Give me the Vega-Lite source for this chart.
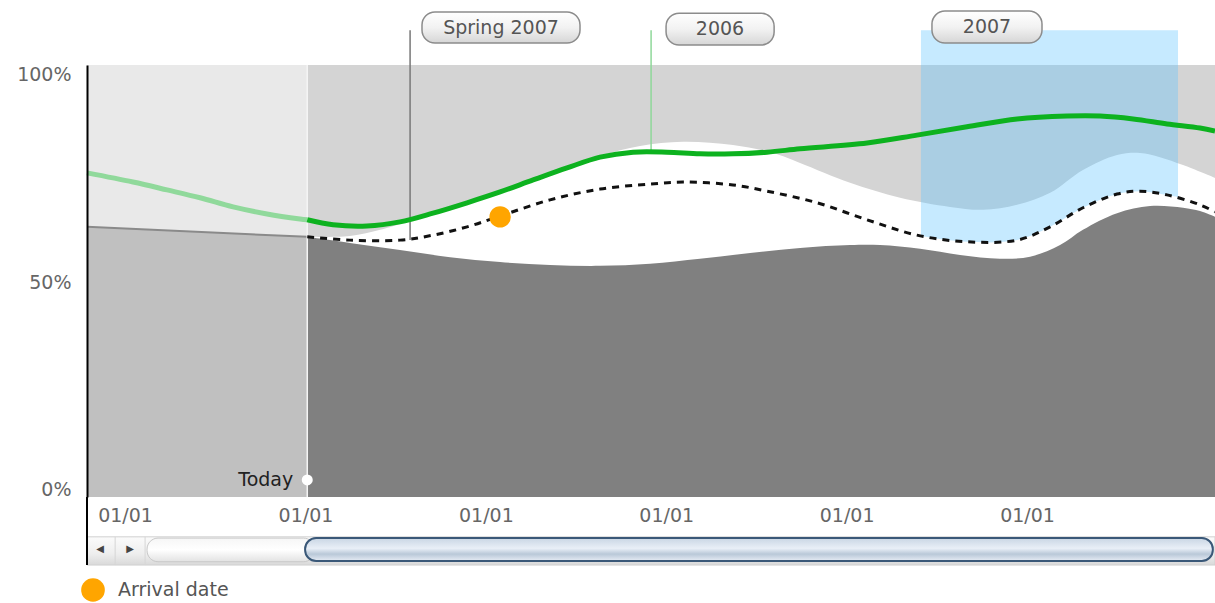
{
  "$schema": "https://vega.github.io/schema/vega-lite/v6.json",
  "width": 1128,
  "height": 432,
  "autosize": {"type": "none"},
  "padding": {"left": 87, "top": 65, "right": 0, "bottom": 106},
  "background": "white",
  "config": {
    "view": {"stroke": null},
    "font": "DejaVu Sans",
    "axis": {"grid": false, "labelFont": "DejaVu Sans", "labelFontSize": 19, "labelColor": "#666666"}
  },
  "datasets": {
    "past": [{"x": -0.211, "y": 0.764}, {"x": 0.044, "y": 0.742}, {"x": 0.233, "y": 0.723}, {"x": 0.416, "y": 0.704}, {"x": 0.599, "y": 0.682}, {"x": 0.787, "y": 0.665}, {"x": 0.97, "y": 0.653}, {"x": 1.01, "y": 0.651}],
    "forecast": [{"x": 1.01, "y": 0.651}, {"x": 1.153, "y": 0.639}, {"x": 1.341, "y": 0.636}, {"x": 1.524, "y": 0.646}, {"x": 1.707, "y": 0.667}, {"x": 1.896, "y": 0.692}, {"x": 2.079, "y": 0.718}, {"x": 2.262, "y": 0.747}, {"x": 2.45, "y": 0.776}, {"x": 2.633, "y": 0.802}, {"x": 2.816, "y": 0.814}, {"x": 3.004, "y": 0.814}, {"x": 3.187, "y": 0.81}, {"x": 3.37, "y": 0.81}, {"x": 3.559, "y": 0.814}, {"x": 3.742, "y": 0.822}, {"x": 4.113, "y": 0.836}, {"x": 4.39, "y": 0.855}, {"x": 4.667, "y": 0.875}, {"x": 4.945, "y": 0.894}, {"x": 5.222, "y": 0.901}, {"x": 5.405, "y": 0.901}, {"x": 5.588, "y": 0.894}, {"x": 5.776, "y": 0.882}, {"x": 5.959, "y": 0.872}, {"x": 6.042, "y": 0.865}],
    "dashed": [{"x": 1.01, "y": 0.61}, {"x": 1.247, "y": 0.602}, {"x": 1.524, "y": 0.602}, {"x": 1.707, "y": 0.614}, {"x": 1.896, "y": 0.634}, {"x": 2.079, "y": 0.66}, {"x": 2.356, "y": 0.699}, {"x": 2.633, "y": 0.725}, {"x": 2.91, "y": 0.737}, {"x": 3.093, "y": 0.742}, {"x": 3.37, "y": 0.735}, {"x": 3.559, "y": 0.72}, {"x": 3.836, "y": 0.692}, {"x": 4.113, "y": 0.651}, {"x": 4.39, "y": 0.614}, {"x": 4.667, "y": 0.598}, {"x": 4.945, "y": 0.602}, {"x": 5.128, "y": 0.634}, {"x": 5.31, "y": 0.68}, {"x": 5.499, "y": 0.713}, {"x": 5.626, "y": 0.72}, {"x": 5.776, "y": 0.711}, {"x": 5.959, "y": 0.687}, {"x": 6.042, "y": 0.67}],
    "blue": [{"x": 4.412, "y": 0.612}, {"x": 4.667, "y": 0.598}, {"x": 4.945, "y": 0.602}, {"x": 5.128, "y": 0.634}, {"x": 5.31, "y": 0.68}, {"x": 5.499, "y": 0.713}, {"x": 5.626, "y": 0.72}, {"x": 5.776, "y": 0.711}, {"x": 5.837, "y": 0.706}],
    "lower": [{"x": 1.01, "y": 0.61}, {"x": 1.247, "y": 0.595}, {"x": 1.524, "y": 0.578}, {"x": 1.802, "y": 0.561}, {"x": 2.079, "y": 0.549}, {"x": 2.356, "y": 0.542}, {"x": 2.633, "y": 0.54}, {"x": 2.91, "y": 0.545}, {"x": 3.187, "y": 0.557}, {"x": 3.465, "y": 0.571}, {"x": 3.742, "y": 0.583}, {"x": 4.019, "y": 0.59}, {"x": 4.185, "y": 0.59}, {"x": 4.407, "y": 0.581}, {"x": 4.629, "y": 0.566}, {"x": 4.85, "y": 0.557}, {"x": 5.017, "y": 0.562}, {"x": 5.183, "y": 0.59}, {"x": 5.31, "y": 0.627}, {"x": 5.499, "y": 0.667}, {"x": 5.682, "y": 0.684}, {"x": 5.865, "y": 0.68}, {"x": 5.959, "y": 0.672}, {"x": 6.042, "y": 0.658}],
    "upper": [{"x": 1.01, "y": 0.61}, {"x": 1.247, "y": 0.612}, {"x": 1.414, "y": 0.627}, {"x": 1.524, "y": 0.641}, {"x": 1.802, "y": 0.68}, {"x": 2.079, "y": 0.72}, {"x": 2.356, "y": 0.761}, {"x": 2.633, "y": 0.805}, {"x": 2.855, "y": 0.829}, {"x": 3.093, "y": 0.839}, {"x": 3.37, "y": 0.831}, {"x": 3.592, "y": 0.812}, {"x": 3.742, "y": 0.788}, {"x": 4.019, "y": 0.74}, {"x": 4.296, "y": 0.704}, {"x": 4.573, "y": 0.682}, {"x": 4.756, "y": 0.675}, {"x": 4.945, "y": 0.687}, {"x": 5.128, "y": 0.716}, {"x": 5.31, "y": 0.771}, {"x": 5.499, "y": 0.807}, {"x": 5.626, "y": 0.812}, {"x": 5.737, "y": 0.802}, {"x": 5.865, "y": 0.783}, {"x": 6.042, "y": 0.752}],
    "labels": [
      {"label": "Spring 2007", "x1": 1.646, "x2": 2.522, "y1": 1.077, "y2": 1.152, "tx": 2.084, "ty": 1.114},
      {"label": "2006", "x1": 2.999, "x2": 3.598, "y1": 1.072, "y2": 1.149, "tx": 3.298, "ty": 1.111},
      {"label": "2007", "x1": 4.473, "x2": 5.083, "y1": 1.077, "y2": 1.154, "tx": 4.778, "ty": 1.116}
    ]
  },
  "layer": [
    {
      "data": {"values": [{"x1": -0.211, "x2": 1.01, "y1": -0.017, "y2": 1.024}]},
      "mark": {"type": "rect", "fill": "#e9e9e9"},
      "encoding": {
        "x": {"field": "x1", "type": "quantitative", "title": null, "scale": {"domain": [-0.211, 6.042], "nice": false, "zero": false},
              "axis": {"title": null, "values": [0, 1, 2, 3, 4, 5], "labelExpr": "'01/01'", "ticks": false, "domain": false, "labelPadding": 9, "labelFlush": false, "labelOverlap": false}},
        "x2": {"field": "x2"},
        "y": {"field": "y1", "type": "quantitative", "title": null, "scale": {"domain": [-0.017, 1.024], "nice": false, "zero": false},
              "axis": {"title": null, "values": [0, 0.5, 1], "format": ".0%", "ticks": false, "domain": true, "domainColor": "#000000", "domainWidth": 2, "labelPadding": 16, "labelFlush": false, "labelOverlap": false, "zindex": 1}},
        "y2": {"field": "y2"}
      }
    },
    {
      "data": {"values": [{"x1": 1.01, "x2": 6.042, "y1": -0.017, "y2": 1.024}]},
      "mark": {"type": "rect", "fill": "#d4d4d4"},
      "encoding": {
        "x": {"field": "x1", "type": "quantitative", "title": null, "scale": {"domain": [-0.211, 6.042]}},
        "x2": {"field": "x2"},
        "y": {"field": "y1", "type": "quantitative", "title": null, "scale": {"domain": [-0.017, 1.024]}},
        "y2": {"field": "y2"}
      }
    },
    {
      "data": {"values": [{"x": -0.211, "y": 0.634}, {"x": 1.01, "y": 0.61}]},
      "mark": {"type": "area", "fill": "#c0c0c0"},
      "encoding": {
        "x": {"field": "x", "type": "quantitative", "title": null, "scale": {"domain": [-0.211, 6.042]}},
        "y": {"field": "y", "type": "quantitative", "title": null, "scale": {"domain": [-0.017, 1.024]}},
        "y2": {"datum": -0.017}
      }
    },
    {
      "data": {"values": [{"x": -0.211, "y": 0.634}, {"x": 1.01, "y": 0.61}]},
      "mark": {"type": "line", "color": "#8a8a8a", "strokeWidth": 2},
      "encoding": {
        "x": {"field": "x", "type": "quantitative", "title": null, "scale": {"domain": [-0.211, 6.042]}},
        "y": {"field": "y", "type": "quantitative", "title": null, "scale": {"domain": [-0.017, 1.024]}}
      }
    },
    {
      "data": {"name": "upper"},
      "mark": {"type": "area", "fill": "#ffffff", "interpolate": "catmull-rom"},
      "encoding": {
        "x": {"field": "x", "type": "quantitative", "title": null, "scale": {"domain": [-0.211, 6.042]}},
        "y": {"field": "y", "type": "quantitative", "title": null, "scale": {"domain": [-0.017, 1.024]}},
        "y2": {"datum": -0.017}
      }
    },
    {
      "data": {"name": "blue"},
      "mark": {"type": "area", "fill": "#5cc3ff", "opacity": 0.35, "interpolate": "catmull-rom"},
      "encoding": {
        "x": {"field": "x", "type": "quantitative", "title": null, "scale": {"domain": [-0.211, 6.042]}},
        "y": {"field": "y", "type": "quantitative", "title": null, "scale": {"domain": [-0.017, 1.024]}},
        "y2": {"datum": 1.108}
      }
    },
    {
      "data": {"name": "lower"},
      "mark": {"type": "area", "fill": "#808080", "interpolate": "catmull-rom"},
      "encoding": {
        "x": {"field": "x", "type": "quantitative", "title": null, "scale": {"domain": [-0.211, 6.042]}},
        "y": {"field": "y", "type": "quantitative", "title": null, "scale": {"domain": [-0.017, 1.024]}},
        "y2": {"datum": -0.017}
      }
    },
    {
      "data": {"values": [{"x": 1.01, "y1": -0.017, "y2": 1.024}]},
      "mark": {"type": "rule", "color": "#f4f4f4", "strokeWidth": 1.5},
      "encoding": {
        "x": {"field": "x", "type": "quantitative", "title": null, "scale": {"domain": [-0.211, 6.042]}},
        "y": {"field": "y1", "type": "quantitative", "title": null, "scale": {"domain": [-0.017, 1.024]}},
        "y2": {"field": "y2"}
      }
    },
    {
      "data": {"values": [{"x": 1.58, "y1": 0.602, "y2": 1.108}]},
      "mark": {"type": "rule", "color": "#777777", "strokeWidth": 1.5},
      "encoding": {
        "x": {"field": "x", "type": "quantitative", "title": null, "scale": {"domain": [-0.211, 6.042]}},
        "y": {"field": "y1", "type": "quantitative", "title": null, "scale": {"domain": [-0.017, 1.024]}},
        "y2": {"field": "y2"}
      }
    },
    {
      "data": {"values": [{"x": 2.916, "y1": 0.819, "y2": 1.108}]},
      "mark": {"type": "rule", "color": "#8fd89a", "strokeWidth": 1.5},
      "encoding": {
        "x": {"field": "x", "type": "quantitative", "title": null, "scale": {"domain": [-0.211, 6.042]}},
        "y": {"field": "y1", "type": "quantitative", "title": null, "scale": {"domain": [-0.017, 1.024]}},
        "y2": {"field": "y2"}
      }
    },
    {
      "data": {"name": "past"},
      "mark": {"type": "line", "color": "#90d99b", "strokeWidth": 5, "interpolate": "catmull-rom"},
      "encoding": {
        "x": {"field": "x", "type": "quantitative", "title": null, "scale": {"domain": [-0.211, 6.042]}},
        "y": {"field": "y", "type": "quantitative", "title": null, "scale": {"domain": [-0.017, 1.024]}}
      }
    },
    {
      "data": {"name": "forecast"},
      "mark": {"type": "line", "color": "#0db21f", "strokeWidth": 5, "interpolate": "catmull-rom"},
      "encoding": {
        "x": {"field": "x", "type": "quantitative", "title": null, "scale": {"domain": [-0.211, 6.042]}},
        "y": {"field": "y", "type": "quantitative", "title": null, "scale": {"domain": [-0.017, 1.024]}}
      }
    },
    {
      "data": {"name": "dashed"},
      "mark": {"type": "line", "color": "#111111", "strokeWidth": 3, "strokeDash": [7, 6], "interpolate": "catmull-rom"},
      "encoding": {
        "x": {"field": "x", "type": "quantitative", "title": null, "scale": {"domain": [-0.211, 6.042]}},
        "y": {"field": "y", "type": "quantitative", "title": null, "scale": {"domain": [-0.017, 1.024]}}
      }
    },
    {
      "data": {"values": [{"x": 2.079, "y": 0.658, "series": "Arrival date"}]},
      "mark": {"type": "point", "shape": "circle", "filled": true, "opacity": 1, "size": 460},
      "encoding": {
        "x": {"field": "x", "type": "quantitative", "title": null, "scale": {"domain": [-0.211, 6.042]}},
        "y": {"field": "y", "type": "quantitative", "title": null, "scale": {"domain": [-0.017, 1.024]}},
        "color": {"field": "series", "type": "nominal", "scale": {"domain": ["Arrival date"], "range": ["#ffa500"]},
                  "legend": {"title": null, "orient": "none", "legendX": -6, "legendY": 513, "padding": 0, "symbolType": "circle", "symbolSize": 560, "symbolStrokeWidth": 0, "symbolOpacity": 1, "labelFontSize": 19, "labelFont": "DejaVu Sans", "labelColor": "#555555", "labelOffset": 13}}
      }
    },
    {
      "data": {"name": "labels"},
      "mark": {"type": "rect", "cornerRadius": 13, "stroke": "#8c8c8c", "strokeWidth": 1.5,
               "fill": {"gradient": "linear", "x1": 0, "y1": 0, "x2": 0, "y2": 1, "stops": [{"offset": 0, "color": "#ffffff"}, {"offset": 0.5, "color": "#f2f2f2"}, {"offset": 1, "color": "#d6d6d6"}]}},
      "encoding": {
        "x": {"field": "x1", "type": "quantitative", "title": null, "scale": {"domain": [-0.211, 6.042]}},
        "x2": {"field": "x2"},
        "y": {"field": "y1", "type": "quantitative", "title": null, "scale": {"domain": [-0.017, 1.024]}},
        "y2": {"field": "y2"}
      }
    },
    {
      "data": {"name": "labels"},
      "mark": {"type": "text", "fontSize": 19, "color": "#555555", "align": "center", "baseline": "middle"},
      "encoding": {
        "x": {"field": "tx", "type": "quantitative", "title": null, "scale": {"domain": [-0.211, 6.042]}},
        "y": {"field": "ty", "type": "quantitative", "title": null, "scale": {"domain": [-0.017, 1.024]}},
        "text": {"field": "label"}
      }
    },
    {
      "data": {"values": [{"x": 1.01, "y": 0.024, "label": "Today"}]},
      "mark": {"type": "point", "shape": "circle", "filled": true, "color": "#ffffff", "opacity": 1, "size": 120},
      "encoding": {
        "x": {"field": "x", "type": "quantitative", "title": null, "scale": {"domain": [-0.211, 6.042]}},
        "y": {"field": "y", "type": "quantitative", "title": null, "scale": {"domain": [-0.017, 1.024]}}
      }
    },
    {
      "data": {"values": [{"x": 1.01, "y": 0.024, "label": "Today"}]},
      "mark": {"type": "text", "fontSize": 19, "color": "#222222", "align": "right", "baseline": "middle", "dx": -14},
      "encoding": {
        "x": {"field": "x", "type": "quantitative", "title": null, "scale": {"domain": [-0.211, 6.042]}},
        "y": {"field": "y", "type": "quantitative", "title": null, "scale": {"domain": [-0.017, 1.024]}},
        "text": {"field": "label"}
      }
    },
    {
      "data": {"values": [{"x1": -0.211, "x2": 6.042, "y1": -0.181, "y2": -0.113}]},
      "mark": {"type": "rect", "stroke": "#d0d0d0", "strokeWidth": 1,
               "fill": {"gradient": "linear", "x1": 0, "y1": 0, "x2": 0, "y2": 1, "stops": [{"offset": 0, "color": "#fbfbfb"}, {"offset": 0.6, "color": "#eeeeee"}, {"offset": 1, "color": "#d9d9d9"}]}},
      "encoding": {
        "x": {"field": "x1", "type": "quantitative", "title": null, "scale": {"domain": [-0.211, 6.042]}},
        "x2": {"field": "x2"},
        "y": {"field": "y1", "type": "quantitative", "title": null, "scale": {"domain": [-0.017, 1.024]}},
        "y2": {"field": "y2"}
      }
    },
    {
      "data": {"values": [{"x1": 0.122, "x2": 1.05, "y1": -0.173, "y2": -0.116}]},
      "mark": {"type": "rect", "cornerRadius": 11, "stroke": "#c8c8c8", "strokeWidth": 1,
               "fill": {"gradient": "linear", "x1": 0, "y1": 0, "x2": 0, "y2": 1, "stops": [{"offset": 0, "color": "#f6f6f6"}, {"offset": 0.5, "color": "#ffffff"}, {"offset": 1, "color": "#e2e2e2"}]}},
      "encoding": {
        "x": {"field": "x1", "type": "quantitative", "title": null, "scale": {"domain": [-0.211, 6.042]}},
        "x2": {"field": "x2"},
        "y": {"field": "y1", "type": "quantitative", "title": null, "scale": {"domain": [-0.017, 1.024]}},
        "y2": {"field": "y2"}
      }
    },
    {
      "data": {"values": [{"x1": 0.998, "x2": 6.03, "y1": -0.171, "y2": -0.116}]},
      "mark": {"type": "rect", "cornerRadius": 11, "stroke": "#3a5878", "strokeWidth": 2,
               "fill": {"gradient": "linear", "x1": 0, "y1": 0, "x2": 0, "y2": 1, "stops": [{"offset": 0, "color": "#c9d6e4"}, {"offset": 0.45, "color": "#e9eff7"}, {"offset": 0.7, "color": "#b9c8d8"}, {"offset": 1, "color": "#e6ecf5"}]}},
      "encoding": {
        "x": {"field": "x1", "type": "quantitative", "title": null, "scale": {"domain": [-0.211, 6.042]}},
        "x2": {"field": "x2"},
        "y": {"field": "y1", "type": "quantitative", "title": null, "scale": {"domain": [-0.017, 1.024]}},
        "y2": {"field": "y2"}
      }
    },
    {
      "data": {"values": [{"x": -0.055, "y1": -0.181, "y2": -0.113}, {"x": 0.111, "y1": -0.181, "y2": -0.113}]},
      "mark": {"type": "rule", "color": "#d6d6d6", "strokeWidth": 1},
      "encoding": {
        "x": {"field": "x", "type": "quantitative", "title": null, "scale": {"domain": [-0.211, 6.042]}},
        "y": {"field": "y1", "type": "quantitative", "title": null, "scale": {"domain": [-0.017, 1.024]}},
        "y2": {"field": "y2"}
      }
    },
    {
      "data": {"values": [{"x": -0.139, "y": -0.142, "glyph": "◀"}, {"x": 0.028, "y": -0.142, "glyph": "▶"}]},
      "mark": {"type": "text", "fontSize": 10, "color": "#444444", "align": "center", "baseline": "middle"},
      "encoding": {
        "x": {"field": "x", "type": "quantitative", "title": null, "scale": {"domain": [-0.211, 6.042]}},
        "y": {"field": "y", "type": "quantitative", "title": null, "scale": {"domain": [-0.017, 1.024]}},
        "text": {"field": "glyph"}
      }
    },
    {
      "data": {"values": [{"x": -0.211, "y1": -0.181, "y2": -0.017}]},
      "mark": {"type": "rule", "color": "#000000", "strokeWidth": 2},
      "encoding": {
        "x": {"field": "x", "type": "quantitative", "title": null, "scale": {"domain": [-0.211, 6.042]}},
        "y": {"field": "y1", "type": "quantitative", "title": null, "scale": {"domain": [-0.017, 1.024]}},
        "y2": {"field": "y2"}
      }
    }
  ]
}
